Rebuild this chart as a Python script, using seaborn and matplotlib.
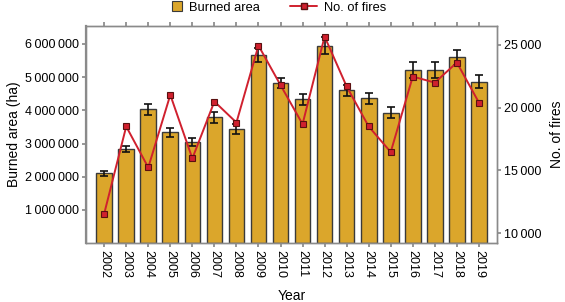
import matplotlib
matplotlib.use("Agg")
import matplotlib.pyplot as plt
import seaborn as sns
import pandas as pd
import numpy as np
from matplotlib.lines import Line2D
from matplotlib.patches import Patch
from matplotlib.ticker import FuncFormatter, FixedLocator

years = [str(y) for y in range(2002, 2020)]
burned_area = [2100000, 2830000, 4030000, 3340000, 3050000, 3790000, 3440000, 5660000,
               4820000, 4330000, 5950000, 4610000, 4360000, 3930000, 5210000, 5210000,
               5600000, 4860000]
burned_err = [80000, 90000, 165000, 135000, 115000, 160000, 140000, 210000,
              150000, 165000, 250000, 165000, 175000, 155000, 235000, 235000,
              225000, 190000]
fires = [11540, 18500, 15230, 21020, 15950, 20490, 18815, 24950, 21800, 18690,
         25670, 21690, 18500, 16460, 22480, 22000, 23600, 20410]

left_ticks = [1000000, 2000000, 3000000, 4000000, 5000000, 6000000]
right_ticks = [10000, 15000, 20000, 25000]

sns.set_theme(style="white")
plt.rcParams['font.family'] = ['Liberation Sans', 'DejaVu Sans']
plt.rcParams['text.color'] = 'black'
plt.rcParams['axes.labelcolor'] = 'black'
plt.rcParams['xtick.color'] = 'black'
plt.rcParams['ytick.color'] = 'black'

bar_color = "#DBA62B"
line_color = "#D0202E"
spine_color = "#8a8a8a"

df = pd.DataFrame({"Year": years, "Burned area": burned_area, "err": burned_err, "Fires": fires})

fig = plt.figure(figsize=(5.65, 3.02), dpi=100)
ax = fig.add_axes([0.152, 0.195, 0.728, 0.719])

sns.barplot(data=df, x="Year", y="Burned area", ax=ax, color=bar_color,
            width=0.71, edgecolor="#3a3a3a", linewidth=1.0, saturation=1)
ax.errorbar(x=np.arange(len(years)), y=df["Burned area"], yerr=df["err"], fmt="none",
            ecolor="#111111", elinewidth=1.2, capsize=3, capthick=1.2, zorder=5)

fmt = FuncFormatter(lambda v, p: f"{int(v):,}".replace(",", "\u2009"))

ax.set_xlim(-0.83, len(years) - 0.17)
ax.set_ylim(0, 6540000)
ax.yaxis.set_major_locator(FixedLocator(left_ticks))
ax.yaxis.set_major_formatter(fmt)
ax.set_xlabel("Year", fontsize=10, labelpad=8)
ax.set_ylabel("Burned area (ha)", fontsize=10, labelpad=3)
ax.tick_params(axis="x", rotation=270, labelsize=9, length=3, color=spine_color,
               labelcolor="black", direction="out", bottom=True, top=True, pad=2)
ax.tick_params(axis="y", labelsize=9, length=3, color=spine_color, labelcolor="black",
               direction="out", left=True, pad=2)

ax2 = ax.twinx()
sns.pointplot(data=df, x="Year", y="Fires", ax=ax2, color=line_color, markers="s",
              linewidth=1.4, markersize=5, markeredgecolor="#5a1010", markeredgewidth=0.8)
ax2.set_xlim(-0.83, len(years) - 0.17)
ax2.set_ylim(9200, 26515)
ax2.yaxis.set_major_locator(FixedLocator(right_ticks))
ax2.yaxis.set_major_formatter(fmt)
ax2.set_ylabel("No. of fires", fontsize=10, labelpad=6)
ax2.tick_params(axis="y", labelsize=9, length=3, color=spine_color, labelcolor="black",
                direction="out", right=True, pad=2)

for a in (ax, ax2):
    for s in a.spines.values():
        s.set_color(spine_color)
        s.set_linewidth(1.0)
        s.set_visible(True)
ax.spines["left"].set_linewidth(1.6)

h1 = [Patch(facecolor=bar_color, edgecolor="#3a3a3a", linewidth=0.8, label="Burned area")]
h2 = [Line2D([0], [0], color=line_color, lw=1.4, marker="s", markersize=5,
             markerfacecolor=line_color, markeredgecolor="#5a1010", label="No. of fires")]
fig.legend(handles=h1, loc="center left", bbox_to_anchor=(172 / 565, 1 - 7.5 / 302),
           frameon=False, fontsize=9.3, handlelength=0.8, handleheight=0.8,
           handletextpad=0.5, borderpad=0, borderaxespad=0)
fig.legend(handles=h2, loc="center left", bbox_to_anchor=(290 / 565, 1 - 7.5 / 302),
           frameon=False, fontsize=9.3, handlelength=2.1, handletextpad=0.5,
           borderpad=0, borderaxespad=0)

fig.savefig("out.png", dpi=100)
